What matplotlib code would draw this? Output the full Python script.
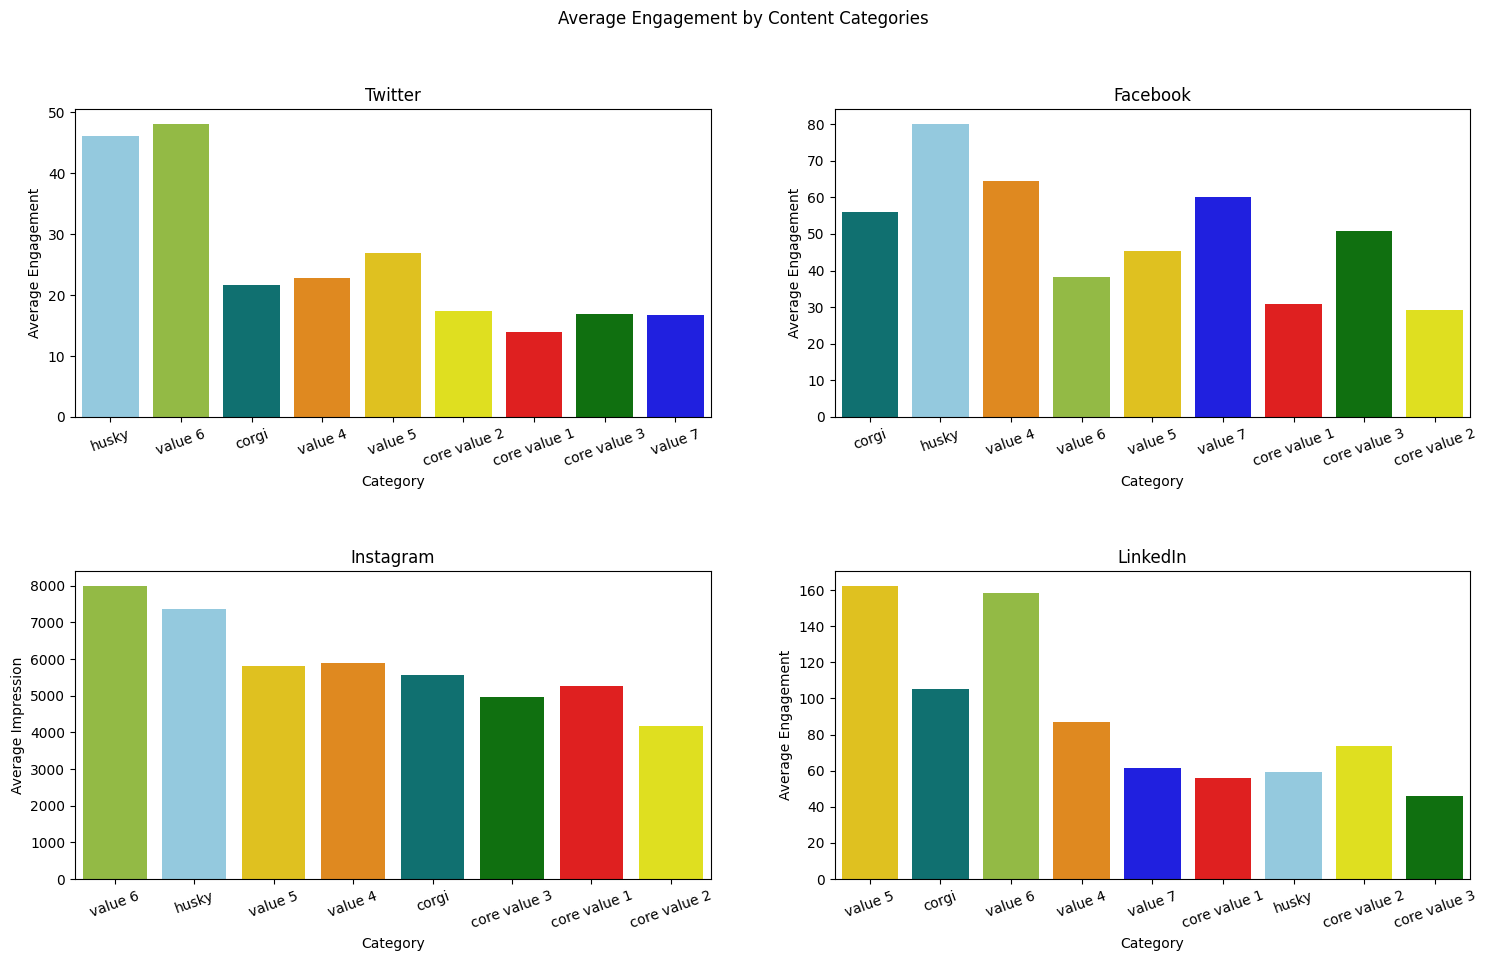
import matplotlib
matplotlib.use("Agg")
import matplotlib.pyplot as plt
import seaborn as sns
import pandas as pd

palette = {
    "husky": "skyblue",
    "value 6": "yellowgreen",
    "corgi": "teal",
    "value 4": "darkorange",
    "value 5": "gold",
    "core value 2": "yellow",
    "core value 1": "red",
    "core value 3": "green",
    "value 7": "blue",
}

twitter_cats = ["husky", "value 6", "corgi", "value 4", "value 5",
                "core value 2", "core value 1", "core value 3", "value 7"]
twitter_vals = [46.1, 48.1, 21.7, 22.8, 26.9, 17.4, 13.95, 16.9, 16.7]

facebook_cats = ["corgi", "husky", "value 4", "value 6", "value 5",
                 "value 7", "core value 1", "core value 3", "core value 2"]
facebook_vals = [56.0, 80.1, 64.5, 38.3, 45.4, 60.1, 30.9, 50.75, 29.25]

instagram_cats = ["value 6", "husky", "value 5", "value 4", "corgi",
                  "core value 3", "core value 1", "core value 2"]
instagram_vals = [8000, 7370, 5818, 5891, 5573, 4973, 5273, 4182]

linkedin_cats = ["value 5", "corgi", "value 6", "value 4", "value 7",
                 "core value 1", "husky", "core value 2", "core value 3"]
linkedin_vals = [162.4, 105.4, 158.5, 87.1, 61.6, 56.1, 59.4, 73.8, 46.1]

panels = [
    ("Twitter", twitter_cats, twitter_vals, "Average Engagement"),
    ("Facebook", facebook_cats, facebook_vals, "Average Engagement"),
    ("Instagram", instagram_cats, instagram_vals, "Average Impression"),
    ("LinkedIn", linkedin_cats, linkedin_vals, "Average Engagement"),
]

fig, axes = plt.subplots(2, 2, figsize=(14.87, 9.61), dpi=100)
fig.suptitle("Average Engagement by Content Categories", y=0.99)

for ax, (title, cats, vals, ylabel) in zip(axes.flat, panels):
    df = pd.DataFrame({"Category": cats, "value": vals})
    sns.barplot(data=df, x="Category", y="value", hue="Category",
                palette=palette, legend=False, ax=ax)
    ax.set_title(title)
    ax.set_xlabel("Category")
    ax.set_ylabel(ylabel)
    ax.tick_params(axis="x", rotation=20)

plt.subplots_adjust(left=0.0505, right=0.9886, top=0.8866, bottom=0.0853,
                    wspace=0.195, hspace=0.5)
plt.savefig("out.png")
plt.close()
